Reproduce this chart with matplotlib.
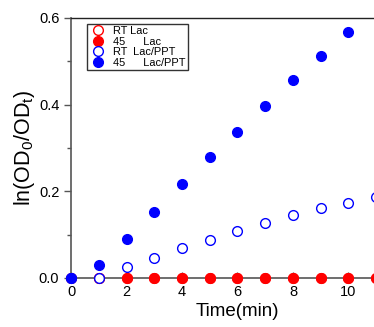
import numpy as np
import matplotlib
matplotlib.use("Agg")
import matplotlib.pyplot as plt

plt.rcParams['font.family'] = ['Liberation Sans', 'DejaVu Sans']
plt.rcParams['mathtext.fontset'] = 'custom'
plt.rcParams['mathtext.rm'] = 'Liberation Sans'
plt.rcParams['mathtext.it'] = 'Liberation Sans'

# data
time_min = np.arange(0, 12)
rt_lac = [0.0] * 12
t45_lac_x = np.arange(1, 12)
t45_lac = [0.0] * 11
rt_lac_ppt = [0.0, 0.0, 0.025, 0.046, 0.069, 0.088, 0.108, 0.127, 0.145, 0.161, 0.173, 0.187]
t45_lac_ppt_x = np.arange(0, 11)
t45_lac_ppt = [0.0, 0.03, 0.09, 0.152, 0.217, 0.279, 0.337, 0.397, 0.457, 0.512, 0.568]

fig = plt.figure(figsize=(3.74, 3.27), dpi=100)
ax = fig.add_axes([0.19, 0.15, 0.89, 0.795])

ms = 7
ax.plot(time_min, rt_lac, 'o', mfc='white', mec='red', mew=1.0, ms=ms, ls='none',
        clip_on=False, zorder=3, label='RT Lac')
ax.plot(t45_lac_x, t45_lac, 'o', color='red', ms=ms, ls='none',
        clip_on=False, zorder=4, label='45      Lac')
ax.plot(time_min, rt_lac_ppt, 'o', mfc='white', mec='blue', mew=1.0, ms=ms, ls='none',
        clip_on=False, zorder=5, label='RT  Lac/PPT')
ax.plot(t45_lac_ppt_x, t45_lac_ppt, 'o', color='blue', ms=ms, ls='none',
        clip_on=False, zorder=6, label='45      Lac/PPT')

ax.set_xlim(0, 12)
ax.set_ylim(0, 0.6)
ax.set_xticks([0, 2, 4, 6, 8, 10])
ax.set_yticks([0.0, 0.2, 0.4, 0.6])
ax.set_yticklabels(['0.0', '0.2', '0.4', '0.6'])
ax.set_yticks([0.1, 0.3, 0.5], minor=True)
ax.tick_params(axis='y', which='major', direction='out', length=5, width=1, color='#555555', labelsize=10.5)
ax.tick_params(axis='y', which='minor', direction='out', length=3, width=1, color='#555555')
ax.tick_params(axis='x', which='major', direction='in', length=4, width=1, color='#555555', labelsize=10.5, pad=5)

for s in ['left', 'bottom']:
    ax.spines[s].set_color('#555555')
    ax.spines[s].set_linewidth(1.2)
ax.spines['top'].set_color('#222222')
ax.spines['top'].set_linewidth(1.0)
ax.spines['right'].set_visible(False)

ax.set_xlabel('Time(min)', fontsize=13.5, labelpad=3)
ax.set_ylabel('ln(OD$_0$/OD$_t$)', fontsize=15.5, labelpad=1)

leg = ax.legend(loc='upper left', bbox_to_anchor=(0.048, 0.977), fontsize=7.9, frameon=True,
                fancybox=False, edgecolor='black', handletextpad=0.55, borderpad=0.2,
                labelspacing=0.05, handlelength=1.6, borderaxespad=0)
leg.get_frame().set_linewidth(1.0)

fig.savefig('out.png', dpi=100)
